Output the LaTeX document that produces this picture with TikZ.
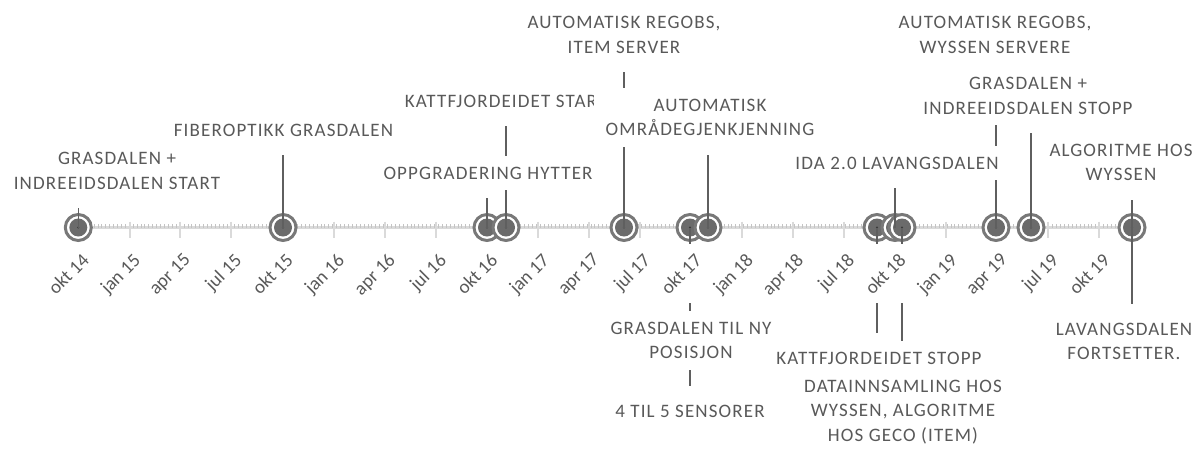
\documentclass[tikz,border=0pt]{standalone}
\usepackage{fontspec}
\setmainfont{Carlito}[LetterSpace=6]
\newfontfamily\plainfont{Carlito}
\usetikzlibrary{calc}
\definecolor{txt}{HTML}{595959}
\definecolor{leadc}{HTML}{5F5F5F}
\definecolor{ringc}{HTML}{787878}
\definecolor{discc}{HTML}{6B6B6B}
\definecolor{dotc}{HTML}{3A3A3A}
\definecolor{axisc}{HTML}{DADADA}
\definecolor{minorc}{HTML}{C4C4C4}
\pgfdeclarelayer{axisl}
\pgfdeclarelayer{markl}
\pgfdeclarelayer{leadl}
\pgfsetlayers{axisl,markl,leadl,main}
\begin{document}
\begin{tikzpicture}[x=1pt,y=-1pt,
  lbl/.style={fill=white, text=txt, align=center, inner xsep=12pt, inner ysep=11pt,
    font=\fontsize{19}{24.5}\selectfont},
  ticklbl/.style={text=txt, rotate=45, anchor=north east, inner sep=0pt,
    font=\plainfont\fontsize{19}{24}\selectfont},
  leader/.style={draw=leadc, line width=1.2pt},
  gapend/.style={shorten >=7.5pt},
  marker/.style={circle, inner sep=0pt, minimum size=26pt, draw=ringc, line width=3pt, fill=white,
    path picture={\fill[discc] (path picture bounding box.center) circle (9pt);
                  \fill[dotc] (path picture bounding box.center) circle (1.1pt);}},
  majortick/.style={draw=axisc, line width=2pt},
  minortick/.style={draw=minorc, line width=0.7pt},
  axisline/.style={draw=axisc, line width=3pt}
]
\useasboundingbox (0,0) rectangle (1197,450);

% ---------- axis ----------
\begin{pgfonlayer}{axisl}
\coordinate (ax0) at (78.3,227.5);
\coordinate (ax1) at (1132,227.5);
\draw[axisline] (ax0) -- (ax1);
\foreach \k in {0,...,269}
  \draw[minortick] ({78.3+3.913*\k},224.3) -- ++(0,3.4);
\foreach \x/\t [count=\i] in {78.3/okt 14,129.7/jan 15,180.0/apr 15,230.9/jul 15,282.3/okt 15,
   333.8/jan 16,384.6/apr 16,435.5/jul 16,486.9/okt 16,538.4/jan 17,588.7/apr 17,639.5/jul 17,
   691.0/okt 17,742.4/jan 18,792.7/apr 18,843.6/jul 18,895.0/okt 18,946.4/jan 19,996.8/apr 19,
   1047.6/jul 19,1099.0/okt 19}
{
  \draw[majortick] (\x,221.5) -- (\x,237.5);
  \node[ticklbl] (tk\i) at ({\x+2.5},252) {\t};
}
\end{pgfonlayer}

% ---------- markers ----------
\begin{pgfonlayer}{markl}
\foreach \n/\x in {m1/78.3,m2/283,m3/487,m4/506,m5/624,m6/690,m7/708,
   m8/877,m8b/895,m8c/902,m9/996,m10/1031,m11/1132}
  \node[marker] (\n) at (\x,227.5) {};
\end{pgfonlayer}

\coordinate (cutA) at (0,244);
\coordinate (cutB) at (0,303);

% ---------- labels above ----------
\node[lbl] (L1) at (117,171) {GRASDALEN +\\INDREEIDSDALEN START};
\node[lbl] (L2) at (283.5,130) {FIBEROPTIKK GRASDALEN};
\node[lbl] (L3) at (506,101) {KATTFJORDEIDET START};
\node[lbl] (L4) at (488,173) {OPPGRADERING HYTTER};
\node[lbl] (L5) at (624,35) {AUTOMATISK REGOBS,\\ITEM SERVER};
\node[lbl] (L6) at (710,117.5) {AUTOMATISK\\OMRÅDEGJENKJENNING};
\node[lbl] (L8) at (995,35) {AUTOMATISK REGOBS,\\WYSSEN SERVERE};
\node[lbl] (L9) at (1028,96) {GRASDALEN +\\INDREEIDSDALEN STOPP};
\node[lbl] (L7) at (897,163) {IDA 2.0 LAVANGSDALEN};
\node[lbl] (L10) at (1121,162.5) {ALGORITME HOS\\WYSSEN};

% ---------- labels below ----------
\node[lbl] (B1) at (691,340.5) {GRASDALEN TIL NY\\POSISJON};
\node[lbl] (B2) at (690,411) {4 TIL 5 SENSORER};
\node[lbl] (B4) at (903,412) {DATAINNSAMLING HOS\\WYSSEN, ALGORITME\\HOS GECO (ITEM)};
\node[lbl] (B3) at (879,358) {KATTFJORDEIDET STOPP};
\node[lbl] (B5) at (1124,341.5) {LAVANGSDALEN\\FORTSETTER.};

% ---------- leader lines ----------
\begin{pgfonlayer}{leadl}
\draw[leader,gapend] (m1.center) -- (m1 |- L1.south);
\draw[leader,gapend] (m2.center) -- (m2 |- L2.south);
\draw[leader,gapend] (m3.center) -- (m3 |- L4.south);
\draw[leader,gapend] (m4.center) -- (m4 |- L3.south);
\draw[leader,gapend] (m5.center) -- (m5 |- L5.south);
\draw[leader,gapend] (m7.center) -- (m7 |- L6.south);
\draw[leader,gapend] (m8b.center) -- (m8b |- L7.south);
\draw[leader,gapend] (m9.center) -- (m9 |- L8.south);
\draw[leader,gapend] (m10.center) -- (m10 |- L9.south);
\draw[leader,gapend] (m11.center) -- (m11 |- L10.south);
\draw[leader,gapend] (m11.center) -- (m11 |- B5.north);
\draw[leader] (m6.center) -- (m6 |- cutA);
\draw[leader,gapend] (m6 |- cutB) -- (m6 |- B1.north);
\draw[leader,gapend] (m6 |- cutB) -- (m6 |- B2.north);
\draw[leader] (m8.center) -- (m8 |- cutA);
\draw[leader,gapend] (m8 |- cutB) -- (m8 |- B3.north);
\draw[leader] (m8c.center) -- (m8c |- cutA);
\draw[leader,gapend] (m8c |- cutB) -- (m8c |- B4.north);
\end{pgfonlayer}
\end{tikzpicture}
\end{document}
